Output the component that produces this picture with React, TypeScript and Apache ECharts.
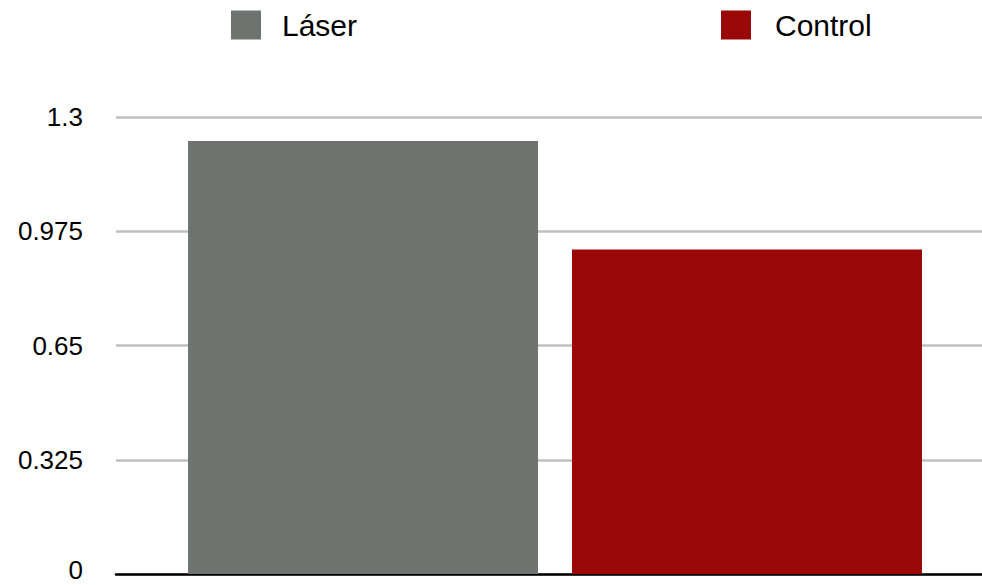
import React, { useEffect, useRef } from "react";
import * as echarts from "echarts";

// Chart data
const categories: string[] = [""];
const seriesNames: string[] = ["Láser", "Control"];
const laserValues: number[] = [1.232];
const controlValues: number[] = [0.923];
const yTicks: number[] = [0, 0.325, 0.65, 0.975, 1.3];

const COLORS = ["#6e7370", "#990707"];
const FONT = "'Liberation Sans', Arial, Helvetica, sans-serif";

export default function App() {
  const ref = useRef<HTMLDivElement>(null);

  useEffect(() => {
    document.body.style.margin = "0";
    if (!ref.current) return;
    const chart = echarts.init(ref.current, null, { renderer: "svg" });

    const legendBase = {
      top: 10,
      padding: 0,
      itemWidth: 30,
      itemHeight: 29,
      icon: "rect",
      selectedMode: false,
    };
    const legendText = (gap: number) => ({
      fontFamily: FONT,
      fontSize: 30,
      color: "#000",
      padding: [0, 0, 0, gap],
    });

    chart.setOption({
      animation: false,
      backgroundColor: "#fff",
      color: COLORS,
      legend: [
        { ...legendBase, left: 231, data: [seriesNames[0]], textStyle: legendText(16) },
        { ...legendBase, left: 721, data: [seriesNames[1]], textStyle: legendText(19) },
      ],
      // the plot area runs a little past the right edge of the canvas
      grid: {
        left: 116,
        width: 878,
        top: 117,
        bottom: 11,
        containLabel: false,
        outerBoundsMode: "none",
      },
      xAxis: {
        type: "category",
        data: categories,
        axisLine: { show: true, lineStyle: { color: "#000", width: 2.5 } },
        axisTick: { show: false },
        axisLabel: { show: false },
        splitLine: { show: false },
      },
      yAxis: {
        type: "value",
        min: yTicks[0],
        max: yTicks[yTicks.length - 1],
        interval: yTicks[1] - yTicks[0],
        axisLine: { show: false },
        axisTick: { show: false },
        axisLabel: {
          fontFamily: FONT,
          fontSize: 26,
          color: "#000",
          margin: 33,
          // the bottom label is nudged up so it stays inside the canvas
          formatter: (v: number) => {
            const s = String(Math.round(v * 1000) / 1000);
            return v === 0 ? `{low|${s}}` : s;
          },
          rich: {
            low: {
              fontFamily: FONT,
              fontSize: 26,
              color: "#000",
              padding: [0, 0, 8, 0],
            },
          },
        },
        splitLine: { show: true, lineStyle: { color: "#c0c0c0", width: 2.5 } },
      },
      series: [
        {
          name: seriesNames[0],
          type: "bar",
          data: laserValues,
          barWidth: 350,
          barGap: "9.7%",
          itemStyle: { color: COLORS[0] },
        },
        {
          name: seriesNames[1],
          type: "bar",
          data: controlValues,
          barWidth: 350,
          barGap: "9.7%",
          itemStyle: { color: COLORS[1] },
        },
      ],
    });

    return () => chart.dispose();
  }, []);

  return <div ref={ref} style={{ width: 982, height: 585 }} />;
}
